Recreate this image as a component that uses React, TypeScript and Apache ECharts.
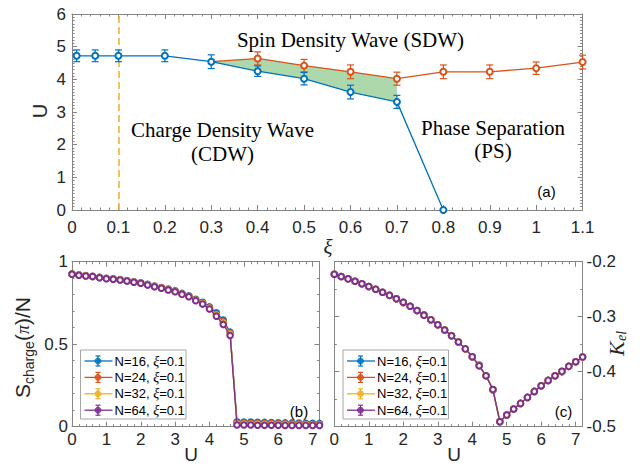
import { useEffect, useRef } from 'react';
import * as echarts from 'echarts';

// ---------- panel (a): phase diagram ----------
const XI_BLUE = [0.01, 0.05, 0.1, 0.2, 0.3, 0.4, 0.5, 0.6, 0.7, 0.8];
const U_BLUE = [4.72, 4.72, 4.72, 4.72, 4.54, 4.25, 4.02, 3.61, 3.31, 0];
const ERR_BLUE = [0.18, 0.18, 0.18, 0.18, 0.21, 0.16, 0.19, 0.21, 0.2, 0];
const XI_ORANGE = [0.3, 0.4, 0.5, 0.6, 0.7, 0.8, 0.9, 1.0, 1.1];
const U_ORANGE = [4.54, 4.64, 4.42, 4.23, 4.02, 4.23, 4.23, 4.34, 4.53];
const ERR_ORANGE = [0, 0.2, 0.19, 0.21, 0.2, 0.21, 0.21, 0.19, 0.21];
const XI_BAND = [0.3, 0.4, 0.5, 0.6, 0.7];
const BAND_LOW = [4.54, 4.25, 4.02, 3.61, 3.31];
const BAND_HIGH = [4.54, 4.64, 4.42, 4.23, 4.02];
const XI_CUT = 0.1;

// ---------- panels (b), (c) ----------
const U_GRID = [0, 0.2, 0.4, 0.6, 0.8, 1.0, 1.2, 1.4, 1.6, 1.8, 2.0, 2.2, 2.4, 2.6, 2.8, 3.0, 3.2, 3.4, 3.6, 3.8, 4.0, 4.2, 4.4, 4.6, 4.8, 5.0, 5.2, 5.4, 5.6, 5.8, 6.0, 6.2, 6.4, 6.6, 6.8, 7.0, 7.2];
const LEGEND_NAMES = ['N=16', 'N=24', 'N=32', 'N=64'];

const S_N16 = [0.926, 0.921, 0.916, 0.912, 0.906, 0.900, 0.896, 0.892, 0.886, 0.879, 0.872, 0.863, 0.853, 0.844, 0.834, 0.824, 0.808, 0.794, 0.772, 0.754, 0.726, 0.690, 0.647, 0.573, 0.030, 0.029, 0.028, 0.027, 0.026, 0.025, 0.024, 0.023, 0.023, 0.022, 0.021, 0.021, 0.020];
const S_N24 = [0.925, 0.920, 0.915, 0.911, 0.905, 0.899, 0.895, 0.891, 0.885, 0.877, 0.871, 0.861, 0.851, 0.842, 0.831, 0.821, 0.805, 0.791, 0.768, 0.749, 0.720, 0.682, 0.636, 0.566, 0.022, 0.021, 0.021, 0.020, 0.019, 0.019, 0.018, 0.017, 0.017, 0.016, 0.016, 0.015, 0.015];
const S_N32 = [0.924, 0.919, 0.914, 0.910, 0.904, 0.898, 0.894, 0.890, 0.884, 0.876, 0.870, 0.860, 0.849, 0.840, 0.829, 0.819, 0.803, 0.789, 0.766, 0.746, 0.717, 0.676, 0.628, 0.560, 0.016, 0.016, 0.015, 0.015, 0.014, 0.014, 0.013, 0.013, 0.012, 0.012, 0.012, 0.011, 0.011];
const S_N64 = [0.924, 0.918, 0.913, 0.910, 0.903, 0.897, 0.893, 0.889, 0.883, 0.875, 0.869, 0.859, 0.848, 0.839, 0.828, 0.818, 0.802, 0.788, 0.764, 0.743, 0.713, 0.670, 0.620, 0.553, 0.010, 0.010, 0.010, 0.009, 0.009, 0.009, 0.009, 0.008, 0.008, 0.008, 0.008, 0.008, 0.008];

const K_N16 = [-0.2230, -0.2270, -0.2312, -0.2355, -0.2401, -0.2450, -0.2501, -0.2555, -0.2612, -0.2674, -0.2739, -0.2810, -0.2888, -0.2966, -0.3055, -0.3148, -0.3243, -0.3346, -0.3460, -0.3585, -0.3727, -0.3880, -0.4075, -0.4325, -0.4909, -0.4788, -0.4679, -0.4576, -0.4467, -0.4358, -0.4255, -0.4158, -0.4073, -0.4003, -0.3903, -0.3818, -0.3733];
const K_N24 = [-0.2230, -0.2270, -0.2312, -0.2355, -0.2401, -0.2450, -0.2501, -0.2555, -0.2612, -0.2674, -0.2745, -0.2810, -0.2888, -0.2972, -0.3055, -0.3148, -0.3243, -0.3346, -0.3460, -0.3585, -0.3727, -0.3893, -0.4075, -0.4334, -0.4905, -0.4788, -0.4679, -0.4576, -0.4467, -0.4358, -0.4255, -0.4158, -0.4073, -0.3994, -0.3903, -0.3818, -0.3733];
const K_N32 = [-0.2230, -0.2270, -0.2312, -0.2355, -0.2401, -0.2450, -0.2501, -0.2555, -0.2612, -0.2674, -0.2739, -0.2810, -0.2888, -0.2972, -0.3055, -0.3148, -0.3243, -0.3346, -0.3460, -0.3585, -0.3727, -0.3893, -0.4075, -0.4328, -0.4909, -0.4788, -0.4679, -0.4576, -0.4467, -0.4358, -0.4255, -0.4158, -0.4073, -0.3994, -0.3903, -0.3818, -0.3733];
const K_N64 = [-0.2230, -0.2270, -0.2312, -0.2355, -0.2401, -0.2450, -0.2501, -0.2555, -0.2612, -0.2674, -0.2739, -0.2810, -0.2888, -0.2972, -0.3055, -0.3148, -0.3243, -0.3346, -0.3460, -0.3585, -0.3727, -0.3893, -0.4075, -0.4325, -0.4909, -0.4788, -0.4679, -0.4576, -0.4467, -0.4358, -0.4255, -0.4158, -0.4073, -0.3994, -0.3903, -0.3818, -0.3733];

const S_SERIES = [S_N16, S_N24, S_N32, S_N64];
const K_SERIES = [K_N16, K_N24, K_N32, K_N64];

// ---------- styles ----------
const C_BLUE = '#0072BD';
const C_ORANGE = '#D95319';
const C_YELLOW = '#EDB120';
const C_PURPLE = '#7E2F8E';
const N_COLORS = [C_BLUE, C_ORANGE, C_YELLOW, C_PURPLE];
const GREEN = 'rgb(172,216,172)';
const AXIS_C = '#858585';
const TXT_C = '#262626';
const SANS = 'Liberation Sans';
const SERIF = 'Liberation Serif';

const G_A = { left: 72, top: 14, width: 510.6, height: 196 };
const G_B = { left: 72, top: 261.7, width: 247.5, height: 165 };
const G_C = { left: 334.3, top: 261.7, width: 248.3, height: 165 };

function valAxis(o: any) {
  const {
    grid, min, max, interval, position, label, fmt, minor, tickLen = 5,
    line = true, fontSize = 17, margin = 5,
  } = o;
  return {
    type: 'value', gridIndex: grid, min, max, interval, position,
    splitLine: { show: false },
    minorSplitLine: { show: false },
    axisLine: { show: line, onZero: false, lineStyle: { color: AXIS_C, width: 1 } },
    axisTick: { show: true, inside: true, length: tickLen, lineStyle: { color: AXIS_C, width: 1 } },
    minorTick: { show: !!minor, splitNumber: minor || 5, length: 2.5, lineStyle: { color: AXIS_C, width: 1 } },
    axisLabel: {
      show: !!label, color: TXT_C, fontFamily: SANS, fontSize, margin,
      formatter: fmt, showMinLabel: true, showMaxLabel: true,
    },
  };
}

const fmtXi = (v: number) => String(Math.round(v * 10) / 10);
const fmtInt = (v: number) => (Math.abs(v - Math.round(v)) < 1e-6 ? String(Math.round(v)) : '');
const fmt1 = (v: number) => v.toFixed(1);

function errorBars(xs: number[], ys: number[], es: number[], color: string) {
  return {
    type: 'custom', xAxisIndex: 0, yAxisIndex: 0, silent: true, z: 3,
    data: xs.map((x, i) => [x, ys[i], es[i]]),
    encode: { x: 0, y: 1 },
    renderItem: (_p: any, api: any) => {
      const x = api.value(0), y = api.value(1), e = api.value(2);
      if (!e) return null;
      const p1 = api.coord([x, y + e]);
      const p2 = api.coord([x, y - e]);
      const w = 3.5;
      const st = { stroke: color, lineWidth: 1.2 };
      return {
        type: 'group', children: [
          { type: 'line', shape: { x1: p1[0], y1: p1[1], x2: p2[0], y2: p2[1] }, style: st },
          { type: 'line', shape: { x1: p1[0] - w, y1: p1[1], x2: p1[0] + w, y2: p1[1] }, style: st },
          { type: 'line', shape: { x1: p2[0] - w, y1: p2[1], x2: p2[0] + w, y2: p2[1] }, style: st },
        ],
      };
    },
  };
}

function legendGraphic(left: number, top: number) {
  const children: any[] = [
    { type: 'rect', shape: { x: left, y: top, width: 105.5, height: 69 }, style: { fill: '#fff', stroke: '#a6a6a6', lineWidth: 1 } },
  ];
  LEGEND_NAMES.forEach((name, i) => {
    const y = top + 11 + 16.4 * i;
    const c = N_COLORS[i];
    const mx = left + 17.5;
    children.push(
      { type: 'line', shape: { x1: left + 4, y1: y, x2: left + 32, y2: y }, style: { stroke: c, lineWidth: 1.3 } },
      { type: 'line', shape: { x1: mx, y1: y - 5, x2: mx, y2: y + 5 }, style: { stroke: c, lineWidth: 1.2 } },
      { type: 'line', shape: { x1: mx - 2.5, y1: y - 5, x2: mx + 2.5, y2: y - 5 }, style: { stroke: c, lineWidth: 1.2 } },
      { type: 'line', shape: { x1: mx - 2.5, y1: y + 5, x2: mx + 2.5, y2: y + 5 }, style: { stroke: c, lineWidth: 1.2 } },
      { type: 'circle', shape: { cx: mx, cy: y, r: 3 }, style: { fill: c, stroke: c, lineWidth: 1, opacity: 0.85 } },
      {
        type: 'text', x: left + 34, y,
        style: {
          text: `{a|${name}, }{x|ξ}{a|=0.1}`,
          verticalAlign: 'middle', align: 'left',
          rich: {
            a: { fontFamily: SANS, fontSize: 13, fill: '#000' },
            x: { fontFamily: SERIF, fontStyle: 'italic', fontSize: 14, fill: '#000' },
          },
        },
      },
    );
  });
  return { type: 'group', children };
}

export default function App() {
  const ref = useRef<HTMLDivElement>(null);
  useEffect(() => {
    if (!ref.current) return;
    const chart = echarts.init(ref.current, undefined, { renderer: 'svg' });

    const mkLine = (vals: number[], k: number, xi: number, yi: number) => ({
      type: 'line', name: LEGEND_NAMES[k], xAxisIndex: xi, yAxisIndex: yi, z: 4 + k,
      data: U_GRID.map((u, i) => [u, vals[i]]),
      symbol: 'emptyCircle', symbolSize: 5.5,
      lineStyle: { color: N_COLORS[k], width: 1.3 },
      itemStyle: { color: N_COLORS[k], borderColor: N_COLORS[k], borderWidth: 1 },
    });
    const bSeries = S_SERIES.map((vals, k) => mkLine(vals, k, 2, 2));
    const cSeries = K_SERIES.map((vals, k) => mkLine(vals, k, 6, 4));

    const option: any = {
      animation: false,
      backgroundColor: '#fff',
      grid: [
        { ...G_A, containLabel: false },
        { ...G_B, containLabel: false },
        { ...G_C, containLabel: false },
      ],
      xAxis: [
        valAxis({ grid: 0, min: 0, max: 1.1, interval: 0.1, position: 'bottom', label: true, fmt: fmtXi, minor: 5, margin: 9 }),
        valAxis({ grid: 0, min: 0, max: 1.1, interval: 0.1, position: 'top', minor: 5 }),
        valAxis({ grid: 1, min: 0, max: 7.2, interval: 1, position: 'bottom', label: true, fmt: fmtInt, margin: 4 }),
        valAxis({ grid: 1, min: 0, max: 7.2, interval: 0.2, position: 'bottom', line: false, tickLen: 2.5 }),
        valAxis({ grid: 1, min: 0, max: 7.2, interval: 1, position: 'top' }),
        valAxis({ grid: 1, min: 0, max: 7.2, interval: 0.2, position: 'top', line: false, tickLen: 2.5 }),
        valAxis({ grid: 2, min: 0, max: 7.2, interval: 1, position: 'bottom', label: true, fmt: fmtInt, margin: 4 }),
        valAxis({ grid: 2, min: 0, max: 7.2, interval: 0.2, position: 'bottom', line: false, tickLen: 2.5 }),
        valAxis({ grid: 2, min: 0, max: 7.2, interval: 1, position: 'top' }),
        valAxis({ grid: 2, min: 0, max: 7.2, interval: 0.2, position: 'top', line: false, tickLen: 2.5 }),
      ],
      yAxis: [
        valAxis({ grid: 0, min: 0, max: 6, interval: 1, position: 'left', label: true, minor: 10, margin: 6 }),
        valAxis({ grid: 0, min: 0, max: 6, interval: 1, position: 'right', minor: 10 }),
        valAxis({ grid: 1, min: 0, max: 1, interval: 0.5, position: 'left', label: true, minor: 5, margin: 4 }),
        valAxis({ grid: 1, min: 0, max: 1, interval: 0.5, position: 'right', minor: 5 }),
        valAxis({ grid: 2, min: -0.5, max: -0.2, interval: 0.1, position: 'right', label: true, fmt: fmt1, minor: 2, margin: 4 }),
        valAxis({ grid: 2, min: -0.5, max: -0.2, interval: 0.1, position: 'left', minor: 2 }),
      ],
      series: [
        {
          type: 'custom', xAxisIndex: 0, yAxisIndex: 0, z: 1, silent: true,
          data: XI_BAND.map((x, i) => [x, BAND_LOW[i], BAND_HIGH[i]]),
          encode: { x: 0, y: [1, 2] },
          renderItem: (p: any, api: any) => {
            if (p.dataIndex !== 0) return null;
            const upper = XI_BAND.map((x, i) => api.coord([x, BAND_HIGH[i]]));
            const lower = XI_BAND.map((x, i) => api.coord([x, BAND_LOW[i]])).reverse();
            return { type: 'polygon', shape: { points: upper.concat(lower) }, style: { fill: GREEN } };
          },
        },
        errorBars(XI_ORANGE, U_ORANGE, ERR_ORANGE, C_ORANGE),
        {
          type: 'line', xAxisIndex: 0, yAxisIndex: 0, z: 4,
          data: XI_ORANGE.map((x, i) => (i === 0 ? { value: [x, U_ORANGE[i]], symbol: 'none' } : [x, U_ORANGE[i]])),
          symbol: 'emptyCircle', symbolSize: 6,
          lineStyle: { color: C_ORANGE, width: 1.3 },
          itemStyle: { color: C_ORANGE, borderColor: C_ORANGE, borderWidth: 1 },
          markLine: {
            silent: true, symbol: ['none', 'none'], label: { show: false }, z: 2,
            lineStyle: { color: C_YELLOW, type: [7, 4], width: 1.5 },
            data: [{ xAxis: XI_CUT }],
          },
        },
        errorBars(XI_BLUE, U_BLUE, ERR_BLUE, C_BLUE),
        {
          type: 'line', xAxisIndex: 0, yAxisIndex: 0, z: 5,
          data: XI_BLUE.map((x, i) => [x, U_BLUE[i]]),
          symbol: 'emptyCircle', symbolSize: 6,
          lineStyle: { color: C_BLUE, width: 1.3 },
          itemStyle: { color: C_BLUE, borderColor: C_BLUE, borderWidth: 1 },
        },
        ...bSeries,
        ...cSeries,
      ],
      graphic: [
        { type: 'text', x: 350.5, y: 40, style: { text: 'Spin Density Wave (SDW)', fontFamily: SERIF, fontSize: 21, fill: '#000', align: 'center', verticalAlign: 'middle' } },
        { type: 'text', x: 222.5, y: 130, style: { text: 'Charge Density Wave', fontFamily: SERIF, fontSize: 21, fill: '#000', align: 'center', verticalAlign: 'middle' } },
        { type: 'text', x: 222.5, y: 154, style: { text: '(CDW)', fontFamily: SERIF, fontSize: 21, fill: '#000', align: 'center', verticalAlign: 'middle' } },
        { type: 'text', x: 493, y: 127.5, style: { text: 'Phase Separation', fontFamily: SERIF, fontSize: 21, fill: '#000', align: 'center', verticalAlign: 'middle' } },
        { type: 'text', x: 493, y: 151, style: { text: '(PS)', fontFamily: SERIF, fontSize: 21, fill: '#000', align: 'center', verticalAlign: 'middle' } },
        { type: 'text', x: 546.5, y: 191.5, style: { text: '(a)', fontFamily: SANS, fontSize: 15, fill: '#000', align: 'center', verticalAlign: 'middle' } },
        { type: 'text', x: 299, y: 411, style: { text: '(b)', fontFamily: SANS, fontSize: 15, fill: '#000', align: 'center', verticalAlign: 'middle' } },
        { type: 'text', x: 563.5, y: 411, style: { text: '(c)', fontFamily: SANS, fontSize: 15, fill: '#000', align: 'center', verticalAlign: 'middle' } },
        // axis titles
        { type: 'text', x: 328, y: 247, style: { text: 'ξ', fontFamily: SERIF, fontStyle: 'italic', fontSize: 21, fill: TXT_C, align: 'center', verticalAlign: 'middle' } },
        { type: 'text', x: 40, y: 111, rotation: Math.PI / 2, style: { text: 'U', fontFamily: SANS, fontSize: 20, fill: TXT_C, align: 'center', verticalAlign: 'middle' } },
        { type: 'text', x: 191, y: 454.5, style: { text: 'U', fontFamily: SANS, fontSize: 19, fill: TXT_C, align: 'center', verticalAlign: 'middle' } },
        { type: 'text', x: 454, y: 454.5, style: { text: 'U', fontFamily: SANS, fontSize: 19, fill: TXT_C, align: 'center', verticalAlign: 'middle' } },
        {
          type: 'group', x: 22.5, y: 347, rotation: Math.PI / 2,
          children: [
            { type: 'text', x: -51, y: 0, style: { text: 'S', fontFamily: SANS, fontSize: 21, fill: TXT_C, align: 'left', verticalAlign: 'middle' } },
            { type: 'text', x: -37, y: 6, style: { text: 'charge', fontFamily: SANS, fontSize: 14, fill: TXT_C, align: 'left', verticalAlign: 'middle' } },
            {
              type: 'text', x: 6, y: 0,
              style: {
                text: '{a|(}{p|π}{a|)/N}', align: 'left', verticalAlign: 'middle',
                rich: {
                  a: { fontFamily: SANS, fontSize: 21, fill: TXT_C },
                  p: { fontFamily: SERIF, fontStyle: 'italic', fontSize: 18, fill: TXT_C },
                },
              },
            },
          ],
        },
        {
          type: 'group', x: 616, y: 344, rotation: Math.PI / 2,
          children: [
            { type: 'text', x: -12, y: 0, style: { text: 'K', fontFamily: SERIF, fontStyle: 'italic', fontSize: 22, fill: TXT_C, align: 'left', verticalAlign: 'middle' } },
            { type: 'text', x: 3, y: 5, style: { text: 'el', fontFamily: SERIF, fontStyle: 'italic', fontSize: 14, fill: TXT_C, align: 'left', verticalAlign: 'middle' } },
          ],
        },
        legendGraphic(80.5, 350),
        legendGraphic(343, 350),
      ],
    };
    chart.setOption(option);
    return () => chart.dispose();
  }, []);
  return <div ref={ref} style={{ position: 'fixed', left: 0, top: 0, width: 643, height: 466, background: '#fff' }} />;
}
